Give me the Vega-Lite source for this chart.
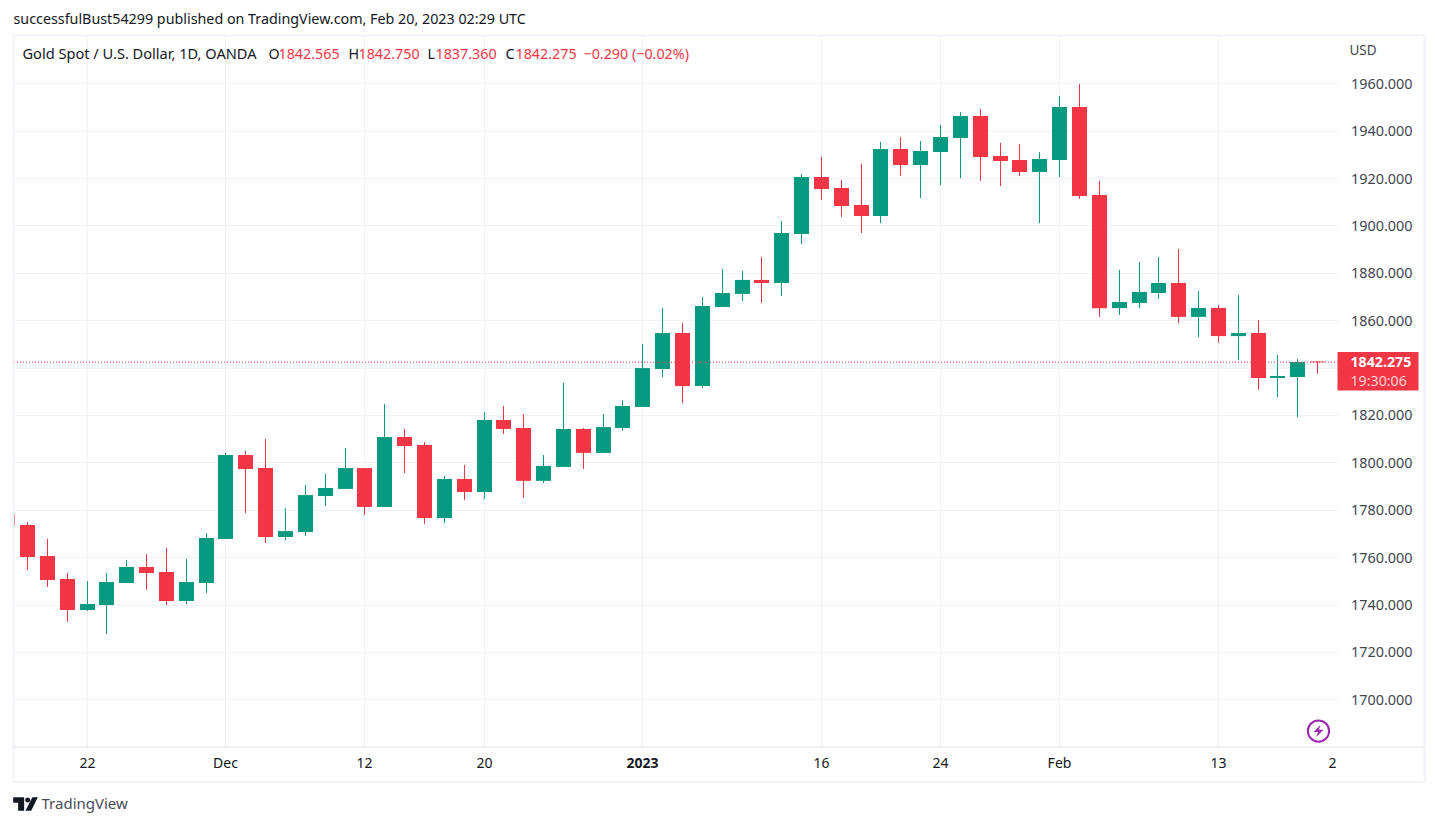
{
  "$schema": "https://vega.github.io/schema/vega-lite/v6.json",
  "description": "Gold Spot / U.S. Dollar daily candles, TradingView style",
  "background": "#ffffff",
  "autosize": {"type": "none"},
  "padding": {"left": 13.5, "top": 36, "right": 99.5, "bottom": 79},
  "width": 1324,
  "height": 711,
  "config": {"font": "Noto Sans", "view": {"stroke": null}},
  "title": {
    "text": "successfulBust54299 published on TradingView.com, Feb 20, 2023 02:29 UTC",
    "anchor": "start", "frame": "group", "fontSize": 14.3, "fontWeight": "normal",
    "color": "#131722", "offset": 7
  },
  "datasets": {
    "candles": [
      {"i": -1, "open": 1778.2, "high": 1778.2, "low": 1773.1, "close": 1773.1},
      {"i": 0, "open": 1773.6, "high": 1774.8, "low": 1754.6, "close": 1760.1},
      {"i": 1, "open": 1760.5, "high": 1767.7, "low": 1747.4, "close": 1750.4},
      {"i": 2, "open": 1750.8, "high": 1753.3, "low": 1732.6, "close": 1737.7},
      {"i": 3, "open": 1737.7, "high": 1749.9, "low": 1737.3, "close": 1740.2},
      {"i": 4, "open": 1739.8, "high": 1753.3, "low": 1727.6, "close": 1749.5},
      {"i": 5, "open": 1749.1, "high": 1758.8, "low": 1749.1, "close": 1755.8},
      {"i": 6, "open": 1755.8, "high": 1761.3, "low": 1746.2, "close": 1753.3},
      {"i": 7, "open": 1753.7, "high": 1763.9, "low": 1739.8, "close": 1741.5},
      {"i": 8, "open": 1741.5, "high": 1759.2, "low": 1740.2, "close": 1749.5},
      {"i": 9, "open": 1749.1, "high": 1770.2, "low": 1744.9, "close": 1768.1},
      {"i": 10, "open": 1767.7, "high": 1804.0, "low": 1767.7, "close": 1803.1},
      {"i": 11, "open": 1803.1, "high": 1804.8, "low": 1778.6, "close": 1797.2},
      {"i": 12, "open": 1797.6, "high": 1809.9, "low": 1766.0, "close": 1768.5},
      {"i": 13, "open": 1768.5, "high": 1780.7, "low": 1767.2, "close": 1771.0},
      {"i": 14, "open": 1770.6, "high": 1790.5, "low": 1768.9, "close": 1786.2},
      {"i": 15, "open": 1785.8, "high": 1795.1, "low": 1781.6, "close": 1789.2},
      {"i": 16, "open": 1788.8, "high": 1806.1, "low": 1788.8, "close": 1797.6},
      {"i": 17, "open": 1797.6, "high": 1797.6, "low": 1777.8, "close": 1781.2},
      {"i": 18, "open": 1781.2, "high": 1824.6, "low": 1781.2, "close": 1810.7},
      {"i": 19, "open": 1810.7, "high": 1814.1, "low": 1795.5, "close": 1806.9},
      {"i": 20, "open": 1807.3, "high": 1808.6, "low": 1774.0, "close": 1776.5},
      {"i": 21, "open": 1776.5, "high": 1794.3, "low": 1774.4, "close": 1793.0},
      {"i": 22, "open": 1793.0, "high": 1798.9, "low": 1784.1, "close": 1787.5},
      {"i": 23, "open": 1787.5, "high": 1821.3, "low": 1784.6, "close": 1817.9},
      {"i": 24, "open": 1817.9, "high": 1823.8, "low": 1812.0, "close": 1814.1},
      {"i": 25, "open": 1814.5, "high": 1820.4, "low": 1785.0, "close": 1792.2},
      {"i": 26, "open": 1792.2, "high": 1803.1, "low": 1791.3, "close": 1798.5},
      {"i": 27, "open": 1798.1, "high": 1833.5, "low": 1798.1, "close": 1814.1},
      {"i": 28, "open": 1814.1, "high": 1814.5, "low": 1797.2, "close": 1804.0},
      {"i": 29, "open": 1804.0, "high": 1820.4, "low": 1804.0, "close": 1814.9},
      {"i": 30, "open": 1814.5, "high": 1826.3, "low": 1813.3, "close": 1823.8},
      {"i": 31, "open": 1823.4, "high": 1850.0, "low": 1823.4, "close": 1839.8},
      {"i": 32, "open": 1839.4, "high": 1865.2, "low": 1836.0, "close": 1854.6},
      {"i": 33, "open": 1854.6, "high": 1858.8, "low": 1825.1, "close": 1832.2},
      {"i": 34, "open": 1832.2, "high": 1869.8, "low": 1831.4, "close": 1866.0},
      {"i": 35, "open": 1865.6, "high": 1881.6, "low": 1865.6, "close": 1871.5},
      {"i": 36, "open": 1871.1, "high": 1880.8, "low": 1868.1, "close": 1877.0},
      {"i": 37, "open": 1877.0, "high": 1886.7, "low": 1867.3, "close": 1875.7},
      {"i": 38, "open": 1875.7, "high": 1901.9, "low": 1870.2, "close": 1896.8},
      {"i": 39, "open": 1896.4, "high": 1921.7, "low": 1892.2, "close": 1920.5},
      {"i": 40, "open": 1920.5, "high": 1928.9, "low": 1910.7, "close": 1915.4},
      {"i": 41, "open": 1915.8, "high": 1919.2, "low": 1903.6, "close": 1908.2},
      {"i": 42, "open": 1908.6, "high": 1926.0, "low": 1896.8, "close": 1904.0},
      {"i": 43, "open": 1904.0, "high": 1935.2, "low": 1901.0, "close": 1932.3},
      {"i": 44, "open": 1932.3, "high": 1937.3, "low": 1920.9, "close": 1925.5},
      {"i": 45, "open": 1925.5, "high": 1935.6, "low": 1911.6, "close": 1931.4},
      {"i": 46, "open": 1931.0, "high": 1942.4, "low": 1917.1, "close": 1937.3},
      {"i": 47, "open": 1936.9, "high": 1947.9, "low": 1920.0, "close": 1946.2},
      {"i": 48, "open": 1946.2, "high": 1949.1, "low": 1918.8, "close": 1928.9},
      {"i": 49, "open": 1929.3, "high": 1934.8, "low": 1916.6, "close": 1927.2},
      {"i": 50, "open": 1927.6, "high": 1934.4, "low": 1920.9, "close": 1922.6},
      {"i": 51, "open": 1922.6, "high": 1931.0, "low": 1901.0, "close": 1928.0},
      {"i": 52, "open": 1927.6, "high": 1954.6, "low": 1920.4, "close": 1950.0},
      {"i": 53, "open": 1950.0, "high": 1959.7, "low": 1911.2, "close": 1912.4},
      {"i": 54, "open": 1912.8, "high": 1918.8, "low": 1861.4, "close": 1865.1},
      {"i": 55, "open": 1865.1, "high": 1881.2, "low": 1862.2, "close": 1867.7},
      {"i": 56, "open": 1867.3, "high": 1884.6, "low": 1865.1, "close": 1871.9},
      {"i": 57, "open": 1871.5, "high": 1886.7, "low": 1869.0, "close": 1875.7},
      {"i": 58, "open": 1875.7, "high": 1890.1, "low": 1858.8, "close": 1861.4},
      {"i": 59, "open": 1861.4, "high": 1872.3, "low": 1852.9, "close": 1865.2},
      {"i": 60, "open": 1865.2, "high": 1866.4, "low": 1850.4, "close": 1853.3},
      {"i": 61, "open": 1853.3, "high": 1870.6, "low": 1843.2, "close": 1854.6},
      {"i": 62, "open": 1854.6, "high": 1860.1, "low": 1830.6, "close": 1835.6},
      {"i": 63, "open": 1835.6, "high": 1845.3, "low": 1827.6, "close": 1836.5},
      {"i": 64, "open": 1836.0, "high": 1843.6, "low": 1819.1, "close": 1842.4},
      {"i": 65, "open": 1842.565, "high": 1842.75, "low": 1837.36, "close": 1842.275}
    ]
  },
  "data": {"values": [{}]},
  "layer": [
    {
      "data": {"name": "candles"},
      "mark": {"type": "rule", "strokeWidth": 1, "clip": true},
      "encoding": {
        "x": {
          "field": "i", "type": "quantitative", "title": null,
          "scale": {"domain": [-0.7054, 66.0], "nice": false, "zero": false, "padding": 0, "round": true},
          "axis": {
            "values": [3, 10, 17, 23, 31, 40, 46, 52, 60],
            "labelExpr": "{3: '22', 10: 'Dec', 17: '12', 23: '20', 31: '2023', 40: '16', 46: '24', 52: 'Feb', 60: '13'}[datum.value]",
            "labelFontWeight": {"condition": {"test": "datum.value == 31", "value": "bold"}, "value": "normal"},
            "labelFontSize": 14, "labelColor": "#131722", "labelPadding": 10, "translate": 0,
            "domain": false, "ticks": false, "grid": true, "gridColor": "#f1f2f6", "labelFlush": false, "labelOverlap": false
          }
        },
        "y": {
          "field": "low", "type": "quantitative", "title": null,
          "scale": {"domain": [1679.87, 1979.96], "nice": false, "zero": false},
          "axis": {
            "orient": "right",
            "values": [1700, 1720, 1740, 1760, 1780, 1800, 1820, 1840, 1860, 1880, 1900, 1920, 1940, 1960],
            "format": ".3f", "labelFontSize": 14.4, "labelColor": "#434651", "labelPadding": 13, "labelOffset": 1,
            "domain": false, "ticks": false, "grid": true, "gridColor": "#f1f2f6", "labelOverlap": false
          }
        },
        "y2": {"field": "high"},
        "color": {"condition": {"test": "datum.close >= datum.open", "value": "#089981"}, "value": "#f23645"}
      }
    },
    {
      "data": {"name": "candles"},
      "mark": {"type": "bar", "size": 15, "clip": true},
      "encoding": {
        "x": {"field": "i", "type": "quantitative"},
        "y": {"field": "open", "type": "quantitative"},
        "y2": {"field": "close"},
        "color": {"condition": {"test": "datum.close >= datum.open", "value": "#089981"}, "value": "#f23645"}
      }
    },
    {
      "mark": {"type": "rule", "stroke": "#f23645", "strokeWidth": 1, "strokeDash": [1, 2], "strokeDashOffset": 0.5},
      "encoding": {"y": {"datum": 1842.275, "type": "quantitative"}}
    },
    {
      "mark": {"type": "rect", "fill": null, "stroke": "#f0f3fa", "strokeWidth": 2, "clip": false},
      "encoding": {
        "x": {"datum": -0.7054, "type": "quantitative"}, "x2": {"datum": 70.37},
        "y": {"datum": 1980.2, "type": "quantitative"}, "y2": {"datum": 1665.1}
      }
    },
    {
      "mark": {"type": "rule", "stroke": "#e0e3eb", "strokeWidth": 1, "clip": false},
      "encoding": {
        "x": {"datum": -0.7054, "type": "quantitative"}, "x2": {"datum": 70.37},
        "y": {"datum": 1679.87, "type": "quantitative"}
      }
    },
    {
      "mark": {"type": "rect", "fill": "#f23645", "clip": false},
      "encoding": {
        "x": {"datum": 66.0, "type": "quantitative"}, "x2": {"datum": 70.1},
        "y": {"datum": 1846.6, "type": "quantitative"}, "y2": {"datum": 1830.3}
      }
    },
    {
      "mark": {"type": "text", "text": "1842.275", "color": "#ffffff", "fontSize": 14.2, "fontWeight": "bold", "align": "left", "baseline": "middle", "clip": false},
      "encoding": {"x": {"datum": 66.64, "type": "quantitative"}, "y": {"datum": 1841.9, "type": "quantitative"}}
    },
    {
      "mark": {"type": "text", "text": "19:30:06", "color": "#ffffff", "opacity": 0.75, "fontSize": 14.2, "align": "left", "baseline": "middle", "clip": false},
      "encoding": {"x": {"datum": 66.64, "type": "quantitative"}, "y": {"datum": 1833.8, "type": "quantitative"}}
    },
    {
      "mark": {"type": "text", "text": "USD", "color": "#434651", "fontSize": 13.5, "align": "left", "baseline": "middle", "clip": false},
      "encoding": {"x": {"datum": 66.59, "type": "quantitative"}, "y": {"datum": 1973.8, "type": "quantitative"}}
    },
    {
      "mark": {"type": "text", "text": "2", "color": "#131722", "fontSize": 14, "align": "center", "baseline": "middle", "clip": false},
      "encoding": {"x": {"datum": 65.73, "type": "quantitative"}, "y": {"datum": 1672.6, "type": "quantitative"}}
    },
    {
      "mark": {"type": "text", "text": "Gold Spot / U.S. Dollar, 1D, OANDA", "color": "#131722", "fontSize": 14.6, "align": "left", "baseline": "middle"},
      "encoding": {"x": {"datum": -0.227, "type": "quantitative"}, "y": {"datum": 1972.0, "type": "quantitative"}}
    },
    {
      "mark": {"type": "text", "text": "O", "color": "#131722", "fontSize": 14.3, "align": "left", "baseline": "middle"},
      "encoding": {"x": {"datum": 12.12, "type": "quantitative"}, "y": {"datum": 1972.0, "type": "quantitative"}}
    },
    {
      "mark": {"type": "text", "text": "1842.565", "color": "#f23645", "fontSize": 14.3, "align": "left", "baseline": "middle"},
      "encoding": {"x": {"datum": 12.65, "type": "quantitative"}, "y": {"datum": 1972.0, "type": "quantitative"}}
    },
    {
      "mark": {"type": "text", "text": "H", "color": "#131722", "fontSize": 14.3, "align": "left", "baseline": "middle"},
      "encoding": {"x": {"datum": 16.15, "type": "quantitative"}, "y": {"datum": 1972.0, "type": "quantitative"}}
    },
    {
      "mark": {"type": "text", "text": "1842.750", "color": "#f23645", "fontSize": 14.3, "align": "left", "baseline": "middle"},
      "encoding": {"x": {"datum": 16.7, "type": "quantitative"}, "y": {"datum": 1972.0, "type": "quantitative"}}
    },
    {
      "mark": {"type": "text", "text": "L", "color": "#131722", "fontSize": 14.3, "align": "left", "baseline": "middle"},
      "encoding": {"x": {"datum": 20.13, "type": "quantitative"}, "y": {"datum": 1972.0, "type": "quantitative"}}
    },
    {
      "mark": {"type": "text", "text": "1837.360", "color": "#f23645", "fontSize": 14.3, "align": "left", "baseline": "middle"},
      "encoding": {"x": {"datum": 20.58, "type": "quantitative"}, "y": {"datum": 1972.0, "type": "quantitative"}}
    },
    {
      "mark": {"type": "text", "text": "C", "color": "#131722", "fontSize": 14.3, "align": "left", "baseline": "middle"},
      "encoding": {"x": {"datum": 24.06, "type": "quantitative"}, "y": {"datum": 1972.0, "type": "quantitative"}}
    },
    {
      "mark": {"type": "text", "text": "1842.275", "color": "#f23645", "fontSize": 14.3, "align": "left", "baseline": "middle"},
      "encoding": {"x": {"datum": 24.57, "type": "quantitative"}, "y": {"datum": 1972.0, "type": "quantitative"}}
    },
    {
      "mark": {"type": "text", "text": "−0.290 (−0.02%)", "color": "#f23645", "fontSize": 14.3, "align": "left", "baseline": "middle"},
      "encoding": {"x": {"datum": 27.99, "type": "quantitative"}, "y": {"datum": 1972.0, "type": "quantitative"}}
    },
    {
      "mark": {"type": "point", "shape": "circle", "size": 452, "filled": false, "stroke": "#9c27b0", "strokeWidth": 2, "opacity": 1, "clip": false},
      "encoding": {"x": {"datum": 65.03, "type": "quantitative"}, "y": {"datum": 1686.6, "type": "quantitative"}}
    },
    {
      "mark": {"type": "point", "shape": "M0.26,-0.85 L-0.7,0.15 L-0.07,0.15 L-0.32,0.85 L0.7,-0.2 L0.07,-0.2 Z", "size": 196, "filled": true, "fill": "#9c27b0", "opacity": 1, "clip": false},
      "encoding": {"x": {"datum": 65.03, "type": "quantitative"}, "y": {"datum": 1686.6, "type": "quantitative"}}
    },
    {
      "mark": {"type": "point", "shape": "M-1,-0.54 L-0.11,-0.54 L-0.11,0.54 L-0.595,0.54 L-0.595,-0.1 L-1,-0.1 Z M-0.03,-0.32 a0.205,0.205 0 1,0 0.41,0 a0.205,0.205 0 1,0 -0.41,0 Z M0.55,-0.54 L1,-0.54 L0.46,0.54 L0,0.54 Z", "size": 610, "filled": true, "fill": "#131722", "opacity": 1, "clip": false},
      "encoding": {"x": {"datum": -0.108, "type": "quantitative"}, "y": {"datum": 1655.8, "type": "quantitative"}}
    },
    {
      "mark": {"type": "text", "text": "TradingView", "color": "#4a4d57", "fontSize": 15, "align": "left", "baseline": "middle", "clip": false},
      "encoding": {"x": {"datum": 0.73, "type": "quantitative"}, "y": {"datum": 1655.8, "type": "quantitative"}}
    }
  ]
}
